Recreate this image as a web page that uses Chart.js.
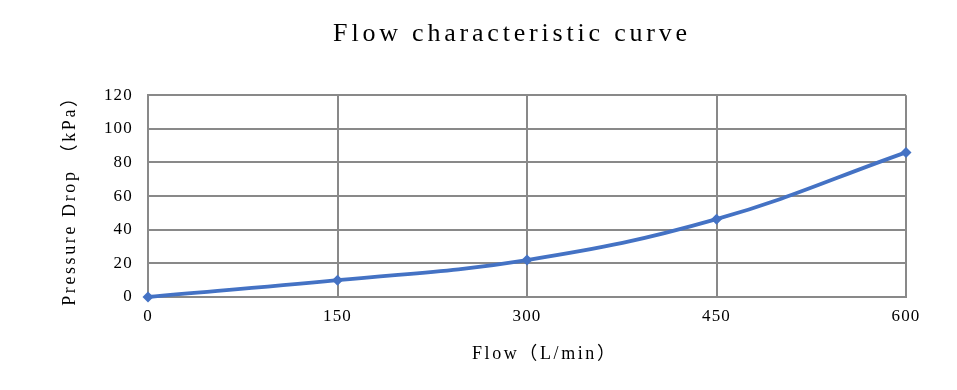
<!DOCTYPE html>
<html>
<head>
<meta charset="utf-8">
<script src="https://cdn.jsdelivr.net/npm/chart.js@4/dist/chart.umd.min.js"></script>
<style>
  html, body { margin: 0; padding: 0; background: #fff; }
  #wrap { width: 957px; height: 390px; }
</style>
</head>
<body>
<div id="wrap"><canvas id="chart"></canvas></div>
<script>
// Данные кривой расхода
const flowValues = [0, 150, 300, 450, 600];
const pressureDrop = [0, 10, 22, 46.3, 86];
const xTicks = [0, 150, 300, 450, 600];
const yTicks = [0, 20, 40, 60, 80, 100, 120];

const FONT = "'Liberation Serif', 'Noto Sans CJK SC', serif";
const GRID = "#898989";

// Оригинал набран моноширинным шрифтом — разгоняем буквы, чтобы совпала ширина
const canvas = document.getElementById("chart");
const ctx2d = canvas.getContext("2d");
const rawFillText = ctx2d.fillText;
ctx2d.fillText = function (text, x, y, maxWidth) {
  const m = /(\d+(?:\.\d+)?)px/.exec(this.font);
  const size = m ? parseFloat(m[1]) : 12;
  this.letterSpacing = size >= 24 ? "3.8px" : size >= 18 ? "2.6px" : "1.2px";
  if (maxWidth === undefined) rawFillText.call(this, text, x, y);
  else rawFillText.call(this, text, x, y, maxWidth);
  this.letterSpacing = "0px";
};

new Chart(canvas, {
  type: "line",
  data: {
    datasets: [{
      data: flowValues.map((x, i) => ({ x, y: pressureDrop[i] })),
      borderColor: "#4472C4",
      backgroundColor: "#4472C4",
      borderWidth: 3.8,
      tension: 0.4,
      pointStyle: "rectRot",
      pointRadius: 5.5,
      pointBorderWidth: 0,
      clip: false,
    }],
  },
  options: {
    responsive: true,
    maintainAspectRatio: false,
    animation: false,
    layout: { padding: { left: 67, right: 0, top: 0, bottom: 0 } },
    plugins: {
      legend: { display: false },
      tooltip: { enabled: false },
      title: {
        display: true,
        text: "Flow characteristic curve",
        color: "#000",
        font: { family: FONT, size: 26, weight: "normal" },
        padding: { top: 19, bottom: 45 },
      },
    },
    scales: {
      x: {
        type: "linear",
        min: 0, max: 600,
        afterBuildTicks: (s) => { s.ticks = xTicks.map((v) => ({ value: v })); },
        afterFit: (s) => { s.height = 93; },
        ticks: { color: "#000", font: { family: FONT, size: 17 }, padding: 9 },
        grid: { color: GRID, lineWidth: 2, drawTicks: false },
        border: { color: GRID, width: 2 },
        title: {
          display: true,
          text: "     Flow（L/min）",
          color: "#000",
          font: { family: FONT, size: 18 },
          padding: { top: 0, bottom: 25 },
        },
      },
      y: {
        min: 0, max: 120,
        afterBuildTicks: (s) => { s.ticks = yTicks.map((v) => ({ value: v })); },
        afterFit: (s) => { s.width = 81; },
        ticks: { color: "#000", font: { family: FONT, size: 17 }, padding: 15 },
        grid: { color: GRID, lineWidth: 2, drawTicks: false },
        border: { color: GRID, width: 2 },
        title: {
          display: true,
          text: "Pressure Drop （kPa）",
          color: "#000",
          font: { family: FONT, size: 18 },
          padding: { top: -8, bottom: 0 },
        },
      },
      // пустая ось справа только держит отступ области графика
      yRight: {
        position: "right",
        display: true,
        afterFit: (s) => { s.width = 51; },
        ticks: { display: false },
        grid: { display: false, drawTicks: false },
        border: { display: false },
      },
    },
  },
});
</script>
</body>
</html>
